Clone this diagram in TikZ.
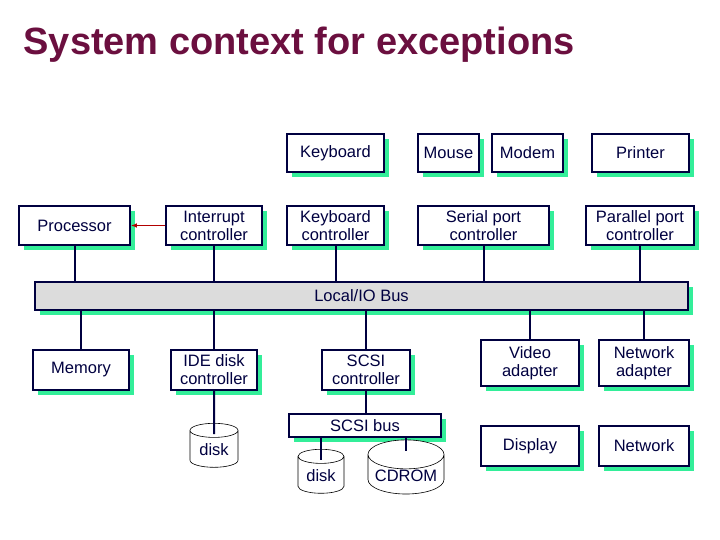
\documentclass[tikz,border=0pt]{standalone}
\usepackage{fontspec}
\setmainfont{Liberation Sans}
\usetikzlibrary{shadows, shapes.geometric, arrows.meta}
\definecolor{navy}{HTML}{000040}
\definecolor{shadowgreen}{HTML}{33EE99}
\definecolor{titlered}{HTML}{6B0F3F}
\definecolor{busgray}{HTML}{DCDCDC}

\begin{document}
\begin{tikzpicture}[
    x=1pt, y=-1pt,
    font=\fontsize{16.5}{18}\selectfont, text=navy,
    box/.style={draw=navy, line width=1.5pt, fill=white, align=center, inner sep=1pt,
      copy shadow={fill=shadowgreen, draw=none, shadow xshift=5pt, shadow yshift=-5pt}},
    disk/.style={cylinder, shape border rotate=90, aspect=0.45, draw=black, line width=0.6pt,
      fill=white, inner sep=1pt},
    wire/.style={draw=navy, line width=2pt}
  ]
  \useasboundingbox (0,0) rectangle (720,540);

  \node[anchor=west, text=titlered, font=\fontsize{38}{42}\bfseries] (title) at (20,45) {System context for exceptions};

  % top row
  \node[box, minimum width=97, minimum height=38] (kbd) at (335.5,153) {Keyboard};
  \node[box, minimum width=61, minimum height=38] (mouse) at (448.5,153) {Mouse};
  \node[box, minimum width=71, minimum height=38] (modem) at (527.5,153) {Modem};
  \node[box, minimum width=97, minimum height=38] (printer) at (640.5,153) {Printer};

  % controllers
  \node[box, minimum width=111, minimum height=39] (cpu) at (74.5,225.5) {Processor};
  \node[box, minimum width=96, minimum height=39] (intc) at (214,225.5) {Interrupt\\controller};
  \node[box, minimum width=97, minimum height=39] (kbdc) at (335.5,225.5) {Keyboard\\controller};
  \node[box, minimum width=131, minimum height=39] (serc) at (483.5,225.5) {Serial port\\controller};
  \node[box, minimum width=108, minimum height=39] (parc) at (640,225.5) {Parallel port\\controller};

  % bus
  \node[box, fill=busgray, minimum width=653, minimum height=28] (bus) at (361.5,296) {Local/IO Bus};

  % lower row
  \node[box, minimum width=96, minimum height=40] (mem) at (81,370) {Memory};
  \node[box, minimum width=86, minimum height=40] (ide) at (214,370) {IDE disk\\controller};
  \node[box, minimum width=88, minimum height=40] (scsic) at (366,370) {SCSI\\controller};
  \node[box, minimum width=98, minimum height=46] (video) at (530,363) {Video\\adapter};
  \node[box, minimum width=90, minimum height=46] (neta) at (644,363) {Network\\adapter};
  \node[box, minimum width=152, minimum height=23] (scsibus) at (365,425.5) {SCSI bus};
  \node[box, minimum width=98, minimum height=40] (disp) at (530,446) {Display};
  \node[box, minimum width=90, minimum height=40] (net) at (644,446) {Network};

  % disks
  \node[disk, minimum width=48, minimum height=44] (disk1) at (214,450) {disk};
  \node[disk, minimum width=46, minimum height=44] (disk2) at (321,476) {disk};
  \node[disk, minimum width=76, minimum height=44] (cdrom) at (406,476) {CDROM};

  % wires to the bus
  \foreach \n in {cpu, intc, kbdc, serc, parc}
    \draw[wire] (\n.south) -- (\n.south |- bus.north);
  \foreach \n in {mem, ide, scsic, video, neta}
    \draw[wire] (\n.north) -- (\n.north |- bus.south);
  \draw[wire] (scsic.south) -- (scsic.south |- scsibus.north);
  \draw[wire] (ide.south) -- ([yshift=-11pt]disk1.north);
  \draw[wire] (disk2.north |- scsibus.south) -- ([yshift=-11pt]disk2.north);
  \draw[wire] (cdrom.north |- scsibus.south) -- ([yshift=-11pt]cdrom.north);

  % interrupt
  \draw[draw=red!70!black, line width=1.5pt, -{Latex[length=6pt]}] (intc.west) -- (cpu.east);
\end{tikzpicture}
\end{document}
